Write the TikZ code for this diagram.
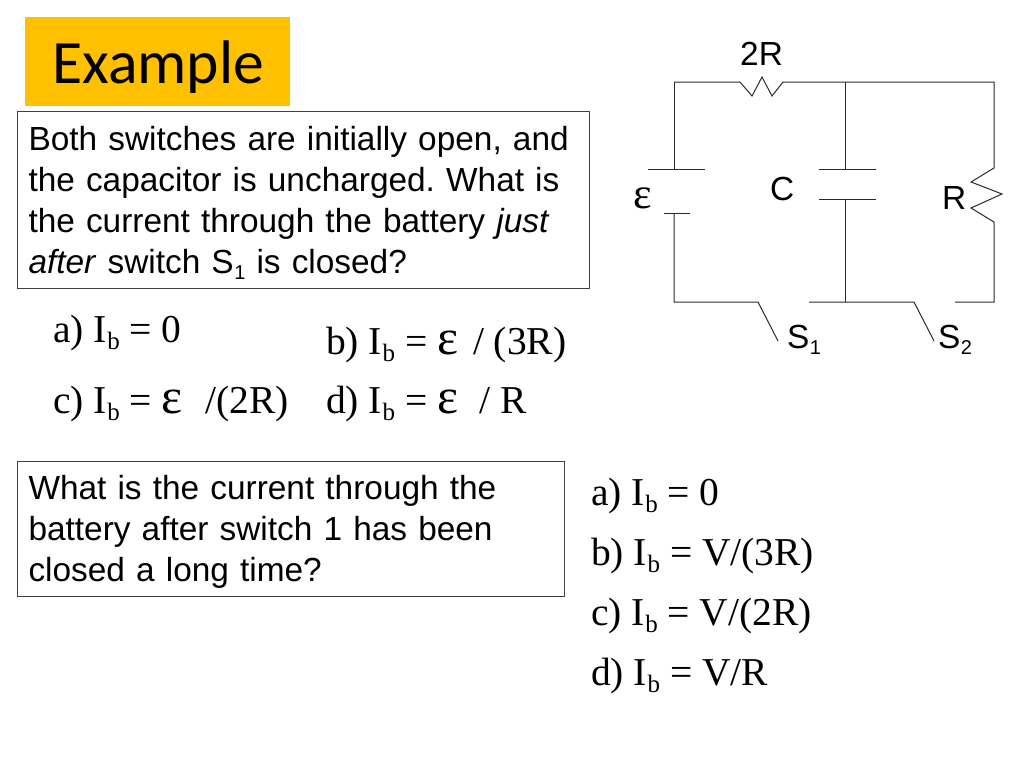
\documentclass[tikz,border=0pt]{standalone}
\usepackage{fontspec}
\setmainfont{Liberation Serif}
\setsansfont{Liberation Sans}
\newfontfamily\titlefont{Carlito}
\definecolor{titleyellow}{HTML}{FFC000}
\definecolor{boxline}{HTML}{404040}
\definecolor{wirecol}{HTML}{2A2A2A}
\newcommand{\Ib}{I\kern0.5pt\raisebox{-7pt}{\fontsize{25}{25}\selectfont b}}
\newcommand{\Sb}[1]{S\kern0.5pt\raisebox{-6pt}{\fontsize{20}{20}\selectfont #1}}
\newcommand{\Eps}{{\fontsize{50}{50}\selectfont ε}}
\tikzset{
  wire/.style={draw=wirecol,line width=1pt,line join=miter},
  qbox/.style={draw=boxline,line width=1pt,anchor=north west,inner sep=0pt,outer sep=0pt,
     align=left,font=\frenchspacing\sffamily\fontsize{33.4}{41}\selectfont},
  option/.style={anchor=base west,inner sep=0pt,font=\rmfamily\fontsize{39.5}{39}\selectfont},
  clabel/.style={anchor=base west,inner sep=0pt,font=\sffamily\fontsize{33.4}{34}\selectfont}
}
\begin{document}
\begin{tikzpicture}[x=1pt,y=-1pt]
\useasboundingbox (0,0) rectangle (1024,768);
\fill[white] (0,0) rectangle (1024,768);
% title
\node[fill=titleyellow,anchor=north west,minimum width=265pt,minimum height=89pt,inner sep=0pt,
  text depth=4pt,font=\titlefont\fontsize{61.6}{62}\selectfont] (title) at (25,17) {\kern1pt\raisebox{-5pt}{Example}};
% question boxes
\node[qbox,minimum width=572pt,minimum height=177pt,text width=549pt,inner xsep=11.5pt] (q1) at (17,111)
 {\rule{0pt}{31.5pt}Both switches are initially open, and\\
  the capacitor is uncharged. What is\\
  the current through the battery \textit{just}\\
  \textit{after} switch \Sb{1} is closed?};
\node[qbox,minimum width=547pt,minimum height=135pt,text width=524pt,inner xsep=11.5pt] (q2) at (17,461)
 {\rule{0pt}{31pt}What is the current through the\\
  battery after switch 1 has been\\
  closed a long time?};
% options
\node[option] (a1) at (53,342) {a) \Ib{} = 0};
\node[option] (b1) at (326,354) {b) \Ib{} = \Eps{}\kern5pt{} / (3R)};
\node[option] (c1) at (53,413) {c) \Ib{} = \Eps~\kern3pt{} /(2R)};
\node[option] (d1) at (326,413) {d) \Ib{} = \Eps~\kern2pt{} / R};
\node[option] (a2) at (591,505) {a) \Ib{} = 0};
\node[option] (b2) at (591,565) {b) \Ib{} = V/(3R)};
\node[option] (c2) at (591,625) {c) \Ib{} = V/(2R)};
\node[option] (d2) at (591,685) {d) \Ib{} = V/R};
% circuit points
\coordinate (tl) at (674,82);
\coordinate (tm) at (845,82);
\coordinate (tr) at (994,82);
\coordinate (bl) at (674,302);
\coordinate (bm) at (845,302);
\coordinate (br) at (994,302);
\coordinate (batA) at (674,169.5);
\coordinate (batB) at (674,213);
\coordinate (capA) at (845,169.5);
\coordinate (capB) at (845,199);
% top wire with 2R
\draw[wire] (tl) -- (740,82) -- (752,96) -- (762,77) -- (772,96) -- (783,82) -- (tm) -- (tr)
  -- (994,168) -- (971,182) -- (1002,194) -- (971,208) -- (994,222) -- (br) -- (955,302);
\draw[wire] (tl) -- (batA);
\draw[wire] (batB) -- (bl) -- (758,302) -- (778,341);
\draw[wire] (tm) -- (capA);
\draw[wire] (capB) -- (bm);
\draw[wire] (809,302) -- (bm) -- (914,302) -- (934,341);
% plates
\draw[wire] (648,169.5) -- (705,169.5);
\draw[wire] (664,213) -- (690,213);
\draw[wire] (819,169.5) -- (876,169.5);
\draw[wire] (819,199) -- (876,199);
% circuit labels
\node[clabel] (l2r) at (740,65) {2R};
\node[clabel] (lC) at (770,200) {C};
\node[clabel] (lR) at (942,209) {R};
\node[anchor=base west,inner sep=0pt,font=\rmfamily\fontsize{44}{44}\selectfont] (le) at (633,208) {ε};
\node[clabel] (ls1) at (787,348) {\Sb{1}};
\node[clabel] (ls2) at (938,348) {\Sb{2}};
\end{tikzpicture}
\end{document}
